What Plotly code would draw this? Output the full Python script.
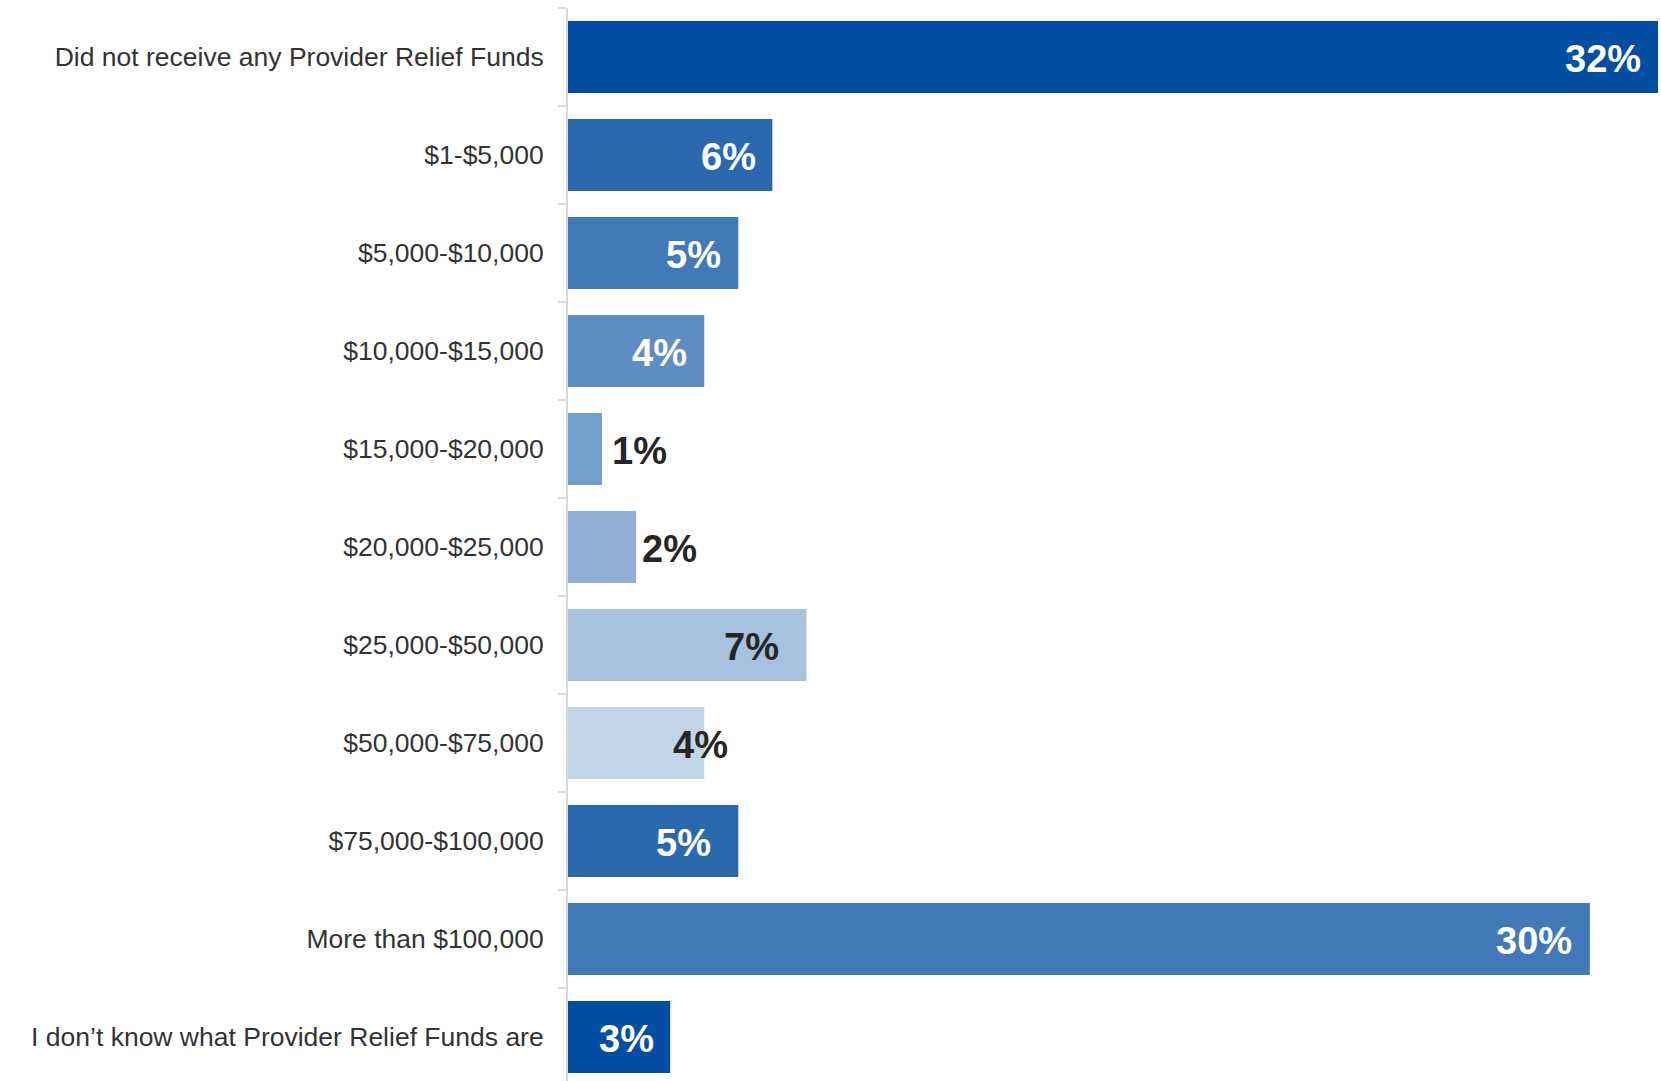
import plotly.graph_objects as go

# Data
categories = [
    "Did not receive any Provider Relief Funds",
    "$1-$5,000",
    "$5,000-$10,000",
    "$10,000-$15,000",
    "$15,000-$20,000",
    "$20,000-$25,000",
    "$25,000-$50,000",
    "$50,000-$75,000",
    "$75,000-$100,000",
    "More than $100,000",
    "I don\u2019t know what Provider Relief Funds are",
]
values = [32, 6, 5, 4, 1, 2, 7, 4, 5, 30, 3]

# Styling per bar
bar_colors = ["#034EA2", "#2B69AF", "#427AB9", "#5E8DC4", "#759FCC", "#8FAFD4",
              "#A8C1DE", "#C2D4E8", "#2B69AF", "#427AB9", "#034EA2"]
label_colors = ["white", "white", "white", "white", "#262626", "#262626",
                "#262626", "#262626", "white", "white", "white"]
# (xanchor, xshift) for each value label
label_pos = [("right", -15), ("right", -14), ("right", -15), ("right", -15),
             ("left", 8), ("left", 4), ("right", -25), ("right", 26),
             ("right", -25), ("right", -16), ("right", -14)]

fig = go.Figure()
fig.add_trace(go.Bar(
    x=values,
    y=categories,
    orientation="h",
    marker=dict(color=bar_colors, line=dict(width=0)),
    hoverinfo="x+y",
    showlegend=False,
))

for cat, val, col, (anchor, shift) in zip(categories, values, label_colors, label_pos):
    fig.add_annotation(
        x=val, y=cat,
        text="<b>%d%%</b>" % val,
        showarrow=False,
        xanchor=anchor,
        xshift=shift,
        yshift=-2,
        font=dict(family="Liberation Sans, Arial, sans-serif", size=38, color=col),
    )

fig.update_layout(
    width=1661,
    height=1081,
    margin=dict(l=568, r=3, t=8, b=0),
    plot_bgcolor="white",
    paper_bgcolor="white",
    bargap=0.265,
    font=dict(family="Liberation Sans, Arial, sans-serif", size=26, color="#333333"),
)
fig.update_xaxes(range=[0, 32], visible=False, showgrid=False, zeroline=False)
fig.update_yaxes(
    type="category",
    range=[10.45, -0.5],
    showgrid=False,
    showline=True,
    linecolor="#d9d9d9",
    linewidth=2,
    ticks="outside",
    tickson="boundaries",
    ticklen=8,
    tickcolor="#d9d9d9",
    tickwidth=2,
    ticklabelstandoff=17,
    tickfont=dict(size=26.5, color="#333333"),
)

# drop the default page margin so the figure fills the window exactly
js = "document.body.style.margin='0px'; document.body.style.overflow='hidden';"
fig.write_html("out.html", post_script=js, config={'displayModeBar': False})
